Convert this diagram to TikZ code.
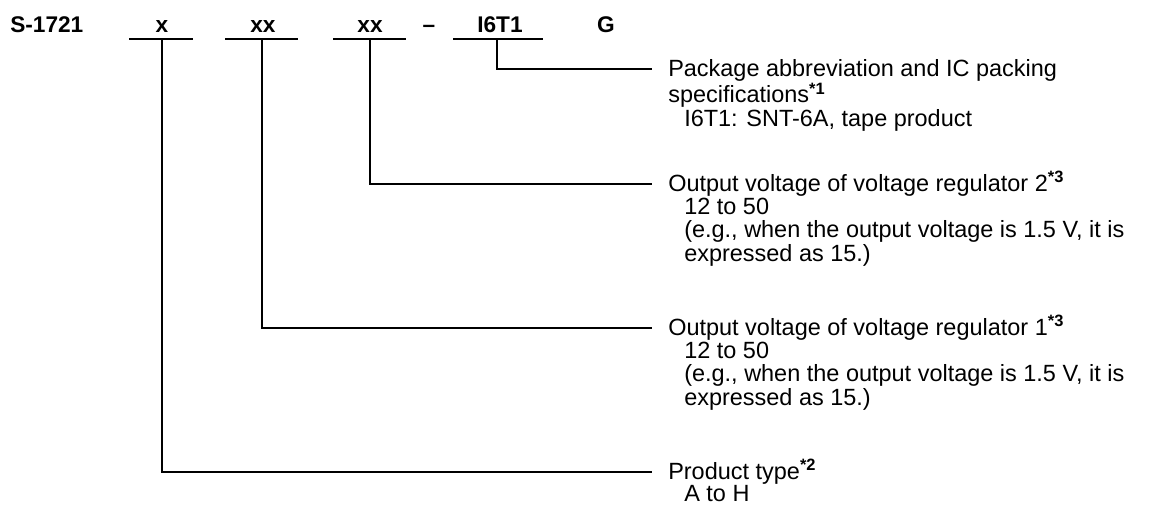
\documentclass[tikz,border=0pt]{standalone}
\usepackage{fontspec}
\setmainfont{Liberation Sans}
\begin{document}
\begin{tikzpicture}[x=0.75pt,y=-0.75pt,
  code/.style={font=\fontsize{17}{20}\selectfont\bfseries, inner sep=0pt, anchor=base},
  desc/.style={font=\fontsize{17.6}{16.9}\selectfont, inner sep=0pt, anchor=base west},
  ul/.style={line width=1.6pt},
  conn/.style={line width=1.6pt}]
\useasboundingbox (0,0) rectangle (1156,511);
% code
\node[code, anchor=base west] (s) at (10,32) {S-1721};
\node[code] (c1) at (162,32) {x};
\node[code] (c2) at (263,32) {xx};
\node[code] (c3) at (370,32) {xx};
\node[code] (dash) at (429,32) {\textendash};
\node[code] (c4) at (500,32) {I6T1};
\node[code] (g) at (606,32) {G};
% underlines
\draw[ul] (129,39) -- (193,39);
\draw[ul] (225,39) -- (298,39);
\draw[ul] (333,39) -- (406,39);
\draw[ul] (453,39) -- (543,39);
\coordinate (m1) at (162,39);
\coordinate (m2) at (262,39);
\coordinate (m3) at (370,39);
\coordinate (m4) at (497,39);
% ends
\coordinate (e4) at (652,69);
\coordinate (e3) at (652,184);
\coordinate (e2) at (652,328);
\coordinate (e1) at (652,472);
% descriptions
\node[desc] (d4) at (668,76) {\begin{tabular}[t]{@{}l@{}}Package abbreviation and IC packing\\
specifications\textsuperscript{\bfseries *1}\\
\hspace*{12pt}I6T1: SNT-6A, tape product\end{tabular}};
\node[desc] (d3) at (668,191) {\begin{tabular}[t]{@{}l@{}}Output voltage of voltage regulator 2\textsuperscript{\bfseries *3}\\
\hspace*{12pt}12 to 50\\
\hspace*{12pt}(e.g., when the output voltage is 1.5 V, it is\\
\hspace*{12pt}expressed as 15.)\end{tabular}};
\node[desc] (d2) at (668,335) {\begin{tabular}[t]{@{}l@{}}Output voltage of voltage regulator 1\textsuperscript{\bfseries *3}\\
\hspace*{12pt}12 to 50\\
\hspace*{12pt}(e.g., when the output voltage is 1.5 V, it is\\
\hspace*{12pt}expressed as 15.)\end{tabular}};
\node[desc] (d1) at (668,479) {\begin{tabular}[t]{@{}l@{}}Product type\textsuperscript{\bfseries *2}\\
\hspace*{12pt}A to H\end{tabular}};
% connectors
\draw[conn] (m4) |- (e4);
\draw[conn] (m3) |- (e3);
\draw[conn] (m2) |- (e2);
\draw[conn] (m1) |- (e1);
\end{tikzpicture}
\end{document}
